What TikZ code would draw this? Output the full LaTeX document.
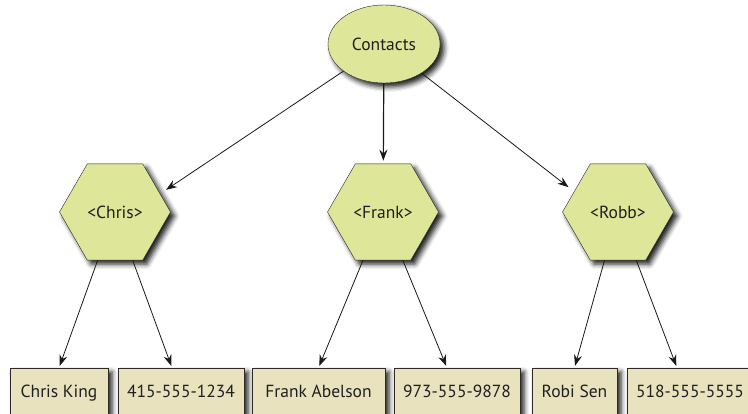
\documentclass[tikz,border=0pt]{standalone}
\usepackage{fontspec}
\setmainfont{PT Sans}
\usetikzlibrary{arrows.meta, shapes.geometric, shadows.blur}
\definecolor{hexfill}{RGB}{222,230,154}
\definecolor{boxfill}{RGB}{232,226,190}
\definecolor{linegray}{RGB}{45,42,38}

\begin{document}
\begin{tikzpicture}[x=1pt, y=-1pt,
  every node/.style={font=\fontsize{17.5}{20}\selectfont, text=black!88, text height=12.5pt, text depth=0pt},
  dropshade/.style={blur shadow={shadow xshift=4pt, shadow yshift=-4pt, shadow blur radius=5pt, shadow opacity=90}},
  topnode/.style={ellipse, draw=linegray, fill=hexfill, minimum width=112pt, minimum height=78pt, inner sep=0pt, dropshade},
  keynode/.style={regular polygon, regular polygon sides=6, draw=linegray, fill=hexfill, minimum size=111pt, inner sep=0pt, dropshade},
  valnode/.style={rectangle, draw=linegray, fill=boxfill, minimum height=46pt, inner sep=0pt, dropshade},
  link/.style={-{Stealth[length=11pt, width=8pt]}, black!90, line width=0.8pt}]
  \useasboundingbox (0,0) rectangle (748,413);
  \clip (0,0) rectangle (748,413);

  % root and keys
  \node[topnode] (contacts) at (384,44) {Contacts};
  \node[keynode] (chris) at (115,212) {<Chris>};
  \node[keynode] (frank) at (383,212) {<Frank>};
  \node[keynode] (robb) at (618,212) {<Robb>};

  % values
  \node[valnode, minimum width=98pt] (chrisname) at (59,391) {Chris King};
  \node[valnode, minimum width=126pt] (chrisphone) at (181,391) {415-555-1234};
  \node[valnode, minimum width=133pt] (frankname) at (318.5,391) {Frank Abelson};
  \node[valnode, minimum width=126pt] (frankphone) at (457,391) {973-555-9878};
  \node[valnode, minimum width=85pt] (robbname) at (574.5,391) {Robi Sen};
  \node[valnode, minimum width=126pt] (robbphone) at (690,391) {518-555-5555};

  \draw[link, shorten >=7pt] (contacts) -- (chris.22);
  \draw[link, line width=1.2pt, shorten >=3pt] (contacts) -- (frank);
  \draw[link, shorten >=7pt] (contacts) -- (robb.155);

  \draw[link, shorten >=2pt] (chris) -- (chrisname.north);
  \draw[link, shorten >=2pt] (chris) -- ([xshift=-9pt]chrisphone.north);
  \draw[link, shorten >=2pt] (frank) -- (frankname.north);
  \draw[link, shorten >=2pt] (frank) -- ([xshift=-10pt]frankphone.north);
  \draw[link, shorten >=2pt] (robb) -- (robbname.north);
  \draw[link, shorten >=2pt] (robb) -- ([xshift=-13pt]robbphone.north);
\end{tikzpicture}
\end{document}
